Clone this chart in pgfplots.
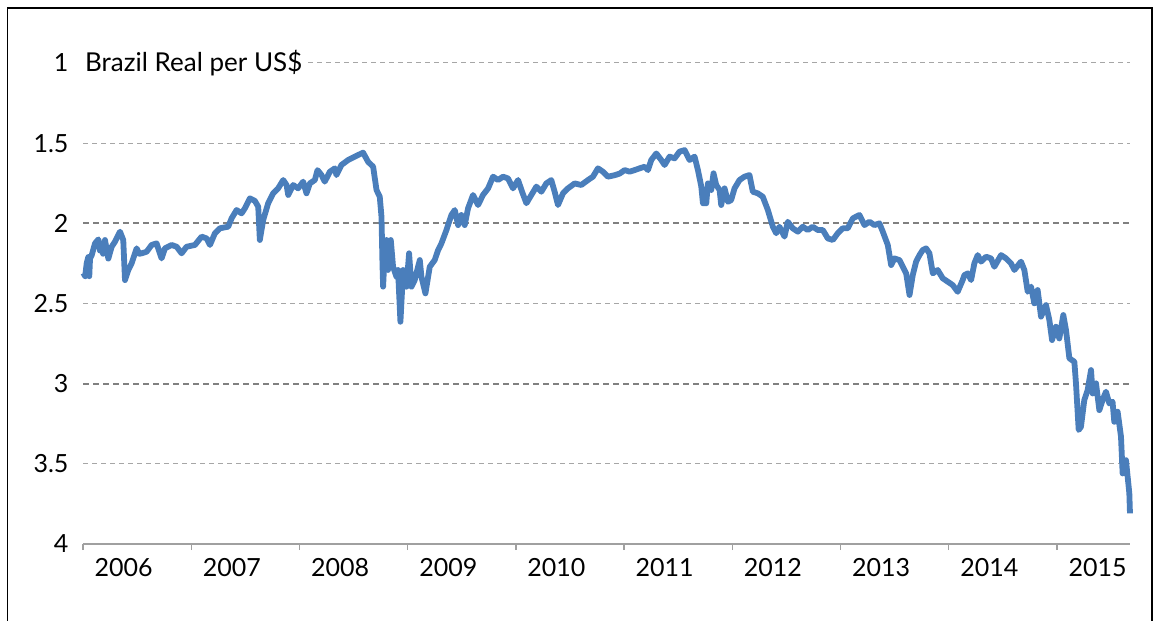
\documentclass[border=0pt]{standalone}
\usepackage{pgfplots}
\pgfplotsset{compat=1.18}
\usepackage{fontspec}
\setmainfont{Lato}
\definecolor{lineblue}{HTML}{4A7EBB}
\definecolor{gridthin}{HTML}{A6A6A6}
\definecolor{gridthick}{HTML}{808080}
\definecolor{axisgray}{HTML}{A0A0A0}
\begin{document}
\begin{tikzpicture}[x=1bp,y=1bp]
\useasboundingbox (0,0) rectangle (1154,621);
\draw[black, line width=1.5bp] (7.5,0) -- (7.5,613) -- (1152,613) -- (1152,0);
\begin{axis}[
  at={(83bp,77bp)}, anchor=south west,
  scale only axis, width=1047bp, height=481bp,
  xmin=2006, xmax=2015.675,
  ymin=1, ymax=4, y dir=reverse,
  axis line style={draw=none},
  /pgf/number format/assume math mode=true,
  tick label style={font=\fontsize{25bp}{29bp}\selectfont, text=black},
  ytick={1,1.5,2.5,3.5,4},
  extra y ticks={2,3},
  yticklabel style={xshift=-5bp},
  ymajorgrids=true,
  grid style={gridthin, line width=1bp, dash pattern=on 5bp off 4bp},
  extra y tick style={grid style={gridthick, line width=2.2bp, dash pattern=on 6bp off 4bp}},
  ytick style={draw=none},
  xtick={2006,...,2015},
  xticklabels={,,,,,,,,,},
  xtick pos=left,
  xticklabel pos=left,
  tick align=outside,
  major tick length=6bp,
  xtick style={axisgray, line width=1.3bp},
  extra x ticks={2006.375,2007.375,2008.375,2009.375,2010.375,2011.375,2012.375,2013.375,2014.375,2015.375},
  extra x tick labels={2006,2007,2008,2009,2010,2011,2012,2013,2014,2015},
  extra x tick style={major tick length=0pt, xticklabel style={yshift=-11bp}},
  clip=false,
]
\draw[axisgray, line width=1.5bp] (axis cs:2006,4) -- (axis cs:2015.675,4);
\node[anchor=west, fill=white, inner sep=2bp, font=\fontsize{26bp}{30bp}\selectfont] at (axis cs:2006,1) {Brazil Real per US\$};
\addplot[lineblue, line width=5.8bp, line join=round, no markers] coordinates {
(2006.003,2.31) (2006.020,2.33) (2006.034,2.25) (2006.049,2.21) (2006.058,2.33) (2006.065,2.22) (2006.080,2.20) (2006.111,2.125) (2006.142,2.10) (2006.157,2.17) (2006.172,2.146) (2006.185,2.19) (2006.203,2.104) (2006.234,2.22) (2006.265,2.146) (2006.295,2.115) (2006.342,2.052) (2006.372,2.104) (2006.388,2.354) (2006.419,2.291) (2006.449,2.25) (2006.496,2.156) (2006.520,2.19) (2006.542,2.187) (2006.588,2.177) (2006.634,2.135) (2006.680,2.125) (2006.726,2.219) (2006.757,2.156) (2006.819,2.135) (2006.865,2.146) (2006.911,2.187) (2006.957,2.146) (2007.034,2.135) (2007.096,2.083) (2007.142,2.094) (2007.173,2.135) (2007.219,2.062) (2007.265,2.031) (2007.342,2.021) (2007.373,1.969) (2007.419,1.917) (2007.465,1.938) (2007.496,1.906) (2007.542,1.844) (2007.588,1.86) (2007.619,1.896) (2007.634,2.104) (2007.665,1.979) (2007.711,1.875) (2007.757,1.813) (2007.803,1.782) (2007.850,1.730) (2007.881,1.761) (2007.896,1.823) (2007.942,1.761) (2007.988,1.782) (2008.034,1.740) (2008.065,1.813) (2008.096,1.751) (2008.142,1.730) (2008.167,1.668) (2008.204,1.699) (2008.234,1.740) (2008.281,1.678) (2008.327,1.657) (2008.342,1.699) (2008.388,1.636) (2008.450,1.605) (2008.512,1.584) (2008.588,1.559) (2008.634,1.616) (2008.681,1.647) (2008.712,1.792) (2008.742,1.834) (2008.758,1.959) (2008.767,2.250) (2008.773,2.395) (2008.789,2.167) (2008.804,2.104) (2008.819,2.291) (2008.844,2.104) (2008.865,2.271) (2008.896,2.333) (2008.911,2.291) (2008.933,2.614) (2008.958,2.291) (2008.989,2.395) (2009.013,2.187) (2009.035,2.395) (2009.065,2.354) (2009.112,2.229) (2009.127,2.333) (2009.164,2.437) (2009.204,2.271) (2009.250,2.229) (2009.281,2.167) (2009.312,2.125) (2009.358,2.042) (2009.404,1.948) (2009.435,1.917) (2009.466,2.011) (2009.496,1.948) (2009.527,2.011) (2009.558,1.906) (2009.604,1.823) (2009.650,1.886) (2009.696,1.823) (2009.743,1.782) (2009.789,1.709) (2009.835,1.730) (2009.881,1.709) (2009.927,1.720) (2009.973,1.782) (2010.020,1.730) (2010.057,1.803) (2010.097,1.875) (2010.143,1.823) (2010.189,1.771) (2010.235,1.803) (2010.281,1.751) (2010.327,1.730) (2010.358,1.803) (2010.389,1.886) (2010.435,1.813) (2010.481,1.782) (2010.543,1.751) (2010.604,1.761) (2010.666,1.730) (2010.712,1.709) (2010.758,1.657) (2010.804,1.678) (2010.850,1.709) (2010.912,1.70) (2010.958,1.690) (2011.005,1.668) (2011.051,1.678) (2011.097,1.668) (2011.143,1.657) (2011.189,1.647) (2011.220,1.668) (2011.251,1.605) (2011.297,1.564) (2011.343,1.605) (2011.374,1.636) (2011.420,1.584) (2011.466,1.595) (2011.512,1.553) (2011.559,1.543) (2011.605,1.605) (2011.651,1.584) (2011.682,1.668) (2011.713,1.771) (2011.728,1.875) (2011.759,1.875) (2011.774,1.751) (2011.805,1.792) (2011.826,1.688) (2011.851,1.761) (2011.882,1.792) (2011.897,1.886) (2011.928,1.782) (2011.959,1.865) (2011.989,1.855) (2012.020,1.782) (2012.066,1.730) (2012.112,1.709) (2012.158,1.699) (2012.189,1.803) (2012.235,1.813) (2012.281,1.834) (2012.328,1.917) (2012.374,2.021) (2012.405,2.062) (2012.435,2.021) (2012.482,2.083) (2012.512,1.990) (2012.558,2.031) (2012.605,2.052) (2012.651,2.021) (2012.697,2.042) (2012.743,2.021) (2012.790,2.042) (2012.836,2.042) (2012.882,2.094) (2012.928,2.104) (2012.974,2.062) (2013.020,2.031) (2013.067,2.031) (2013.113,1.969) (2013.174,1.948) (2013.221,2.011) (2013.267,1.990) (2013.313,2.011) (2013.359,2.000) (2013.390,2.052) (2013.436,2.135) (2013.467,2.260) (2013.498,2.219) (2013.544,2.229) (2013.575,2.271) (2013.606,2.312) (2013.637,2.447) (2013.667,2.323) (2013.698,2.239) (2013.729,2.198) (2013.759,2.167) (2013.790,2.156) (2013.821,2.187) (2013.852,2.312) (2013.897,2.291) (2013.944,2.343) (2013.990,2.364) (2014.036,2.385) (2014.082,2.427) (2014.128,2.354) (2014.144,2.323) (2014.175,2.312) (2014.206,2.354) (2014.236,2.250) (2014.267,2.198) (2014.298,2.239) (2014.344,2.208) (2014.390,2.219) (2014.421,2.271) (2014.483,2.198) (2014.529,2.219) (2014.575,2.250) (2014.606,2.291) (2014.667,2.239) (2014.698,2.291) (2014.729,2.427) (2014.760,2.395) (2014.790,2.499) (2014.821,2.416) (2014.852,2.582) (2014.898,2.510) (2014.929,2.603) (2014.954,2.728) (2014.990,2.645) (2015.021,2.718) (2015.058,2.572) (2015.083,2.666) (2015.114,2.842) (2015.160,2.863) (2015.175,2.998) (2015.200,3.289) (2015.221,3.269) (2015.252,3.102) (2015.283,3.040) (2015.314,2.915) (2015.329,3.061) (2015.360,2.998) (2015.391,3.165) (2015.421,3.102) (2015.452,3.050) (2015.483,3.123) (2015.513,3.113) (2015.529,3.238) (2015.560,3.175) (2015.591,3.331) (2015.606,3.560) (2015.637,3.477) (2015.668,3.684) (2015.674,3.809)
};
\end{axis}
\end{tikzpicture}
\end{document}
